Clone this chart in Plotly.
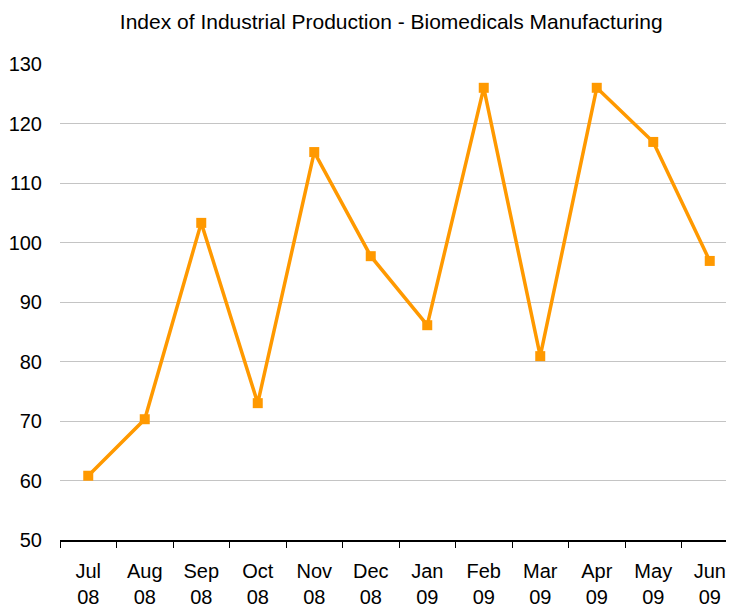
import plotly.graph_objects as go

# monthly index values
months = ['Jul<br>08', 'Aug<br>08', 'Sep<br>08', 'Oct<br>08', 'Nov<br>08',
          'Dec<br>08', 'Jan<br>09', 'Feb<br>09', 'Mar<br>09', 'Apr<br>09',
          'May<br>09', 'Jun<br>09']
index_values = [60.8, 70.3, 103.3, 73.0, 115.2, 97.7, 86.1, 126.0, 80.9,
                126.0, 116.9, 96.9]
y_ticks = [50, 60, 70, 80, 90, 100, 110, 120, 130]

fig = go.Figure()
fig.add_trace(go.Scatter(
    x=months,
    y=index_values,
    mode='lines+markers',
    line=dict(color='#FF9900', width=3.5),
    marker=dict(symbol='square', size=10, color='#FF9900'),
    showlegend=False,
))

# page body has an 8px margin, so the figure is shifted/sized to compensate
fig.update_layout(
    width=730,
    height=603,
    margin=dict(l=52, r=0, t=56, b=71),
    paper_bgcolor='white',
    plot_bgcolor='white',
    font=dict(family='Liberation Sans, Arial, sans-serif', color='black',
              size=20),
    title=dict(
        text='Index of Industrial Production - Biomedicals Manufacturing',
        x=0.525, xanchor='center', y=0.978, yanchor='middle',
        font=dict(size=21),
    ),
)

fig.update_xaxes(
    type='category',
    range=[-0.5, len(months) - 0.5],
    automargin=False,
    showgrid=False,
    showline=True,
    linecolor='black',
    linewidth=1.5,
    ticks='outside',
    tickson='boundaries',
    ticklen=6,
    tickcolor='black',
    tickwidth=1,
    ticklabelstandoff=12,
)

fig.update_yaxes(
    range=[50, 130],
    tickvals=y_ticks,
    automargin=False,
    showgrid=True,
    gridcolor='#c4c4c4',
    gridwidth=1,
    zeroline=False,
    showline=False,
    ticks='',
    ticklabelstandoff=17,
)

fig.write_html("out.html")
